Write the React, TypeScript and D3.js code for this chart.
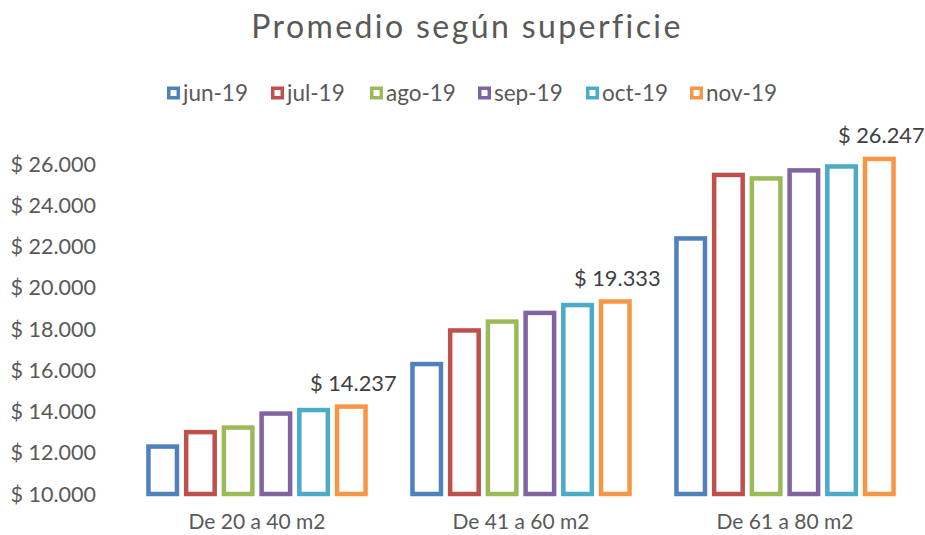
import * as d3 from "d3";

const categories = ["De 20 a 40 m2", "De 41 a 60 m2", "De 61 a 80 m2"];
const months = ["jun-19", "jul-19", "ago-19", "sep-19", "oct-19", "nov-19"];
const colors = ["#4F81BD", "#C0504D", "#9BBB59", "#8064A2", "#4BACC6", "#F79646"];

// values per month, one entry per category
const jun19 = [12300, 16300, 22390];
const jul19 = [13000, 17930, 25470];
const ago19 = [13220, 18360, 25300];
const sep19 = [13900, 18780, 25690];
const oct19 = [14070, 19160, 25880];
const nov19 = [14237, 19333, 26247];
const series = [jun19, jul19, ago19, sep19, oct19, nov19];

const yTicks = [10000, 12000, 14000, 16000, 18000, 20000, 22000, 24000, 26000];

const W = 925;
const H = 535;
const FONT = "Lato, 'Open Sans', sans-serif";

const fmt = (v: number) => "$ " + d3.format(",")(v).replace(/,/g, ".");

export default function App() {
  const x0 = d3.scaleBand<string>().domain(categories).range([125, 917]);
  const bw = x0.bandwidth();
  const x1 = d3
    .scaleBand<string>()
    .domain(months)
    .range([bw / 14, bw - bw / 14]);
  const y = d3.scaleLinear().domain([10000, 26000]).range([494, 164]);

  const sw = 4.5;
  const barW = 28.5;

  return (
    <svg
      width={W}
      height={H}
      style={{ position: "absolute", left: 0, top: 0, background: "#fff" }}
      fontFamily={FONT}
    >
      <text x={467} y={38} textAnchor="middle" fontSize={32} fill="#595959" letterSpacing={2.4}>
        Promedio según superficie
      </text>

      {/* legend */}
      {(() => {
        const starts = [167, 271, 370, 478, 586, 690];
        return months.map((m, i) => (
          <g key={m} transform={`translate(${starts[i]},93)`}>
            <rect x={1.75} y={-4.75} width={9.5} height={9.5} fill="#fff" stroke={colors[i]} strokeWidth={3.5} />
            <text x={16} y={0} dy="0.35em" fontSize={22.5} fill="#595959">
              {m}
            </text>
          </g>
        ));
      })()}

      {/* y axis labels */}
      {yTicks.map((t) => (
        <text key={t} x={96} y={y(t)} dy="0.35em" textAnchor="end" fontSize={21.5} fill="#595959">
          {fmt(t)}
        </text>
      ))}

      {/* bars */}
      {categories.map((c, ci) => (
        <g key={c} transform={`translate(${x0(c)},0)`}>
          {months.map((m, si) => {
            const v = series[si][ci];
            const cx = (x1(m) ?? 0) + x1.bandwidth() / 2;
            return (
              <rect
                key={m}
                x={cx - barW / 2}
                y={y(v)}
                width={barW}
                height={y(10000) - y(v)}
                fill="#fff"
                stroke={colors[si]}
                strokeWidth={sw}
              />
            );
          })}
          <text
            x={(x1("nov-19") ?? 0) + x1.bandwidth() / 2 + 2}
            y={y(nov19[ci]) - 16}
            textAnchor="middle"
            fontSize={21.8}
            fill="#404040"
          >
            {fmt(nov19[ci])}
          </text>
          <text x={bw / 2} y={529} textAnchor="middle" fontSize={21} fill="#595959">
            {c}
          </text>
        </g>
      ))}
    </svg>
  );
}
